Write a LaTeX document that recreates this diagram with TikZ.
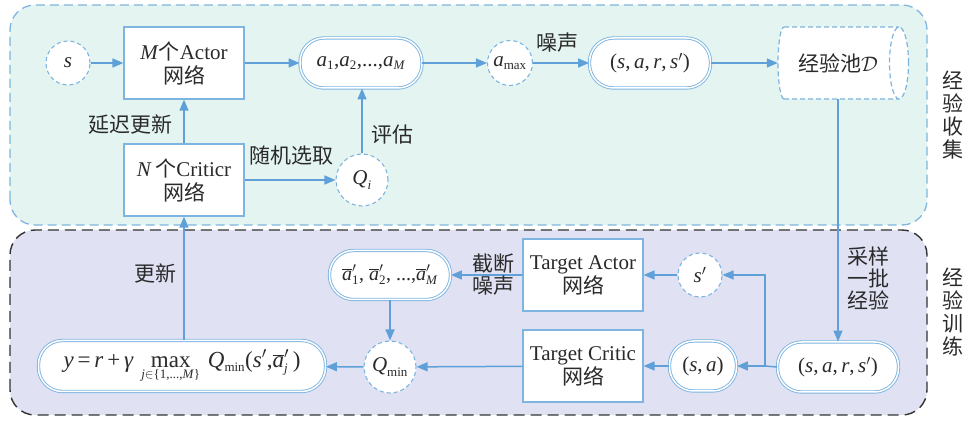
\RequirePackage{fix-cm}
\documentclass[tikz,border=0pt]{standalone}
\usepackage{fontspec}
\setmainfont{Liberation Serif}
\newfontfamily\cjk{Noto Sans CJK SC}
\usetikzlibrary{arrows.meta,calc}
\definecolor{lineblue}{HTML}{7EB4E0}
\definecolor{arrblue}{HTML}{5FA0D8}
\definecolor{topfill}{HTML}{E4F5F1}
\definecolor{lowfill}{HTML}{E0E2F4}
\definecolor{txtc}{HTML}{2A2A2A}
\newcommand{\vi}[1]{\textit{#1}}
\newcommand{\sbx}[1]{\mbox{\fontsize{13}{13}\selectfont #1}}
\newcommand{\mvar}[1]{\mbox{\textit{#1}}}
\begin{document}
\begin{tikzpicture}[x=1pt,y=1pt,
  every node/.style={text=txtc, font=\fontsize{21}{24}\selectfont},
  zh/.style={font={\cjk\fontsize{21}{24}\selectfont}, align=center},
  boxn/.style={draw=lineblue, line width=1.2pt, fill=white, minimum width=120pt, minimum height=72pt, inner sep=0pt, align=center},
  stad/.style={draw=lineblue, double=white, double distance=1.5pt, line width=0.9pt, fill=white, rounded corners=24pt, minimum height=50pt, inner sep=0pt},
  circn/.style={circle, draw=lineblue, dashed, dash pattern=on 4pt off 3pt, line width=1.1pt, fill=white, inner sep=0pt},
  arr/.style={draw=arrblue, line width=1.5pt, -{Triangle[length=11pt,width=9pt]}},
  ln/.style={draw=arrblue, line width=1.5pt}]
\useasboundingbox (0,0) rectangle (967,423);
% regions
\draw[fill=topfill, draw=lineblue, line width=1.3pt, dash pattern=on 9pt off 5pt, rounded corners=25pt] (10,198) rectangle (927,418);
\draw[fill=lowfill, draw=black!80, line width=1.4pt, dash pattern=on 11pt off 6pt, rounded corners=25pt] (10,8) rectangle (927,193);
% cylinder
\fill[white] (784,396) -- (899,396) arc[start angle=90,end angle=-90,x radius=9.5,y radius=36] -- (784,324) arc[start angle=270,end angle=90,x radius=6,y radius=36] -- cycle;
\draw[lineblue, line width=1.2pt, dash pattern=on 5pt off 3pt] (784,396) -- (899,396) (784,324) -- (899,324)
  (784,324) arc[start angle=270,end angle=90,x radius=6,y radius=36]
  (899,360) ellipse[x radius=9.5, y radius=36];
% nodes
\node[circn, minimum size=44pt] (s) at (68,360) {\vi{s}};
\node[boxn] (MA) at (184,360) {{\vi{M}{\cjk 个}Actor}\\{\cjk 网络}};
\node[stad, minimum width=122pt] (A) at (361,360) {$\mvar{a}_{\sbx{1}}\mbox{,}\mvar{a}_{\sbx{2}}\mbox{,...,}\mvar{a}_{\sbx{\textit{M}}}$};
\node[circn, minimum size=45pt] (amax) at (510,360) {$\mvar{a}_{\sbx{max}}$};
\node[stad, minimum width=121pt] (S1) at (650,360) {(\vi{s},\,\vi{a},\,\vi{r},\,\vi{s}$'$)};
\node[minimum width=120pt, minimum height=72pt, inner sep=0pt] (D) at (838,360) {{\cjk 经验池}$\mathcal{D}$};
\node[boxn] (NC) at (184,243) {{\vi{N}\,{\cjk 个}Criticr}\\{\cjk 网络}};
\node[circn, minimum size=52pt] (Qi) at (362,243) {$\mvar{Q}_{\sbx{\textit{i}}}$};
\node[stad, minimum width=121pt] (S2) at (838,56) {(\vi{s},\,\vi{a},\,\vi{r},\,\vi{s}$'$)};
\node[stad, minimum width=67pt] (SA) at (703,57) {(\vi{s},\,\vi{a})};
\node[circn, minimum size=44pt] (sp) at (700,148) {\vi{s}$'$};
\node[boxn] (TA) at (583,148) {Target Actor\\{\cjk 网络}};
\node[boxn] (TC) at (583,57) {Target Critic\\{\cjk 网络}};
\node[stad, minimum width=121pt, minimum height=49pt, font=\fontsize{20}{22}\selectfont] (Ab) at (390,148) {$\overline{\mvar{a}}'_{\sbx{1}}\mbox{, }\overline{\mvar{a}}'_{\sbx{2}}\mbox{, ...,}\overline{\mvar{a}}'_{\sbx{\textit{M}}}$};
\node[circn, minimum size=52pt] (Qm) at (390,56) {$\mvar{Q}_{\sbx{min}}$};
\node[stad, minimum width=287pt, minimum height=51pt, font=\fontsize{23}{26}\selectfont] (Y) at (182,57) {$\mvar{y}\mbox{\,=\,}\mvar{r}\mbox{\,+\,}\mvar{γ}\mbox{\,}\mathop{\mbox{max}}\limits_{\raisebox{-2pt}{\sbx{\textit{j}$\in$\{1,...,\textit{M}\}}}}\mbox{\,}\mvar{Q}_{\sbx{min}}\mbox{(}\mvar{s}'\mbox{,}\overline{\mvar{a}}'_{\sbx{\textit{j}}}\mbox{\,)}$};
\coordinate (J) at (765,57);
% connectors
\draw[arr] (s) -- (MA);
\draw[arr] (MA) -- (A);
\draw[arr] (A) -- (amax);
\draw[arr] (amax) -- (S1);
\draw[arr] (S1) -- (D);
\draw[arr] (D.south) -- (S2.north);
\draw[ln] (S2.west) -- (J);
\draw[arr] (J) -- (SA);
\draw[arr] (J) |- (sp);
\draw[arr] (sp) -- (TA);
\draw[arr] (SA) -- (TC);
\draw[arr] (TA) -- (Ab);
\draw[arr] (Ab) -- (Qm);
\draw[arr] (TC) -- (Qm);
\draw[arr] (Qm) -- (Y);
\draw[arr] (Y.north -| NC) -- (NC.south);
\draw[arr] (NC) -- (MA);
\draw[arr] (NC) -- (Qi);
\draw[arr] (Qi) -- (Qi |- A.south);
% labels
\node[zh] (l1) at (130,298) {延迟更新};
\node[zh] (l2) at (291,267) {随机选取};
\node[zh] (l3) at (392,288) {评估};
\node[zh] (l4) at (557,380) {噪声};
\node[zh, font={\cjk\fontsize{21}{22}\selectfont}] (l5) at (493,148) {截断\\噪声};
\node[zh] (l6) at (155,150) {更新};
\node[zh, font={\cjk\fontsize{21}{22}\selectfont}] (l7) at (868,145) {采样\\一批\\经验};
\node[zh, font={\cjk\fontsize{21}{23}\selectfont}] (l8) at (953,308) {经\\验\\收\\集};
\node[zh, font={\cjk\fontsize{21}{23}\selectfont}] (l9) at (953,111) {经\\验\\训\\练};
\end{tikzpicture}
\end{document}
